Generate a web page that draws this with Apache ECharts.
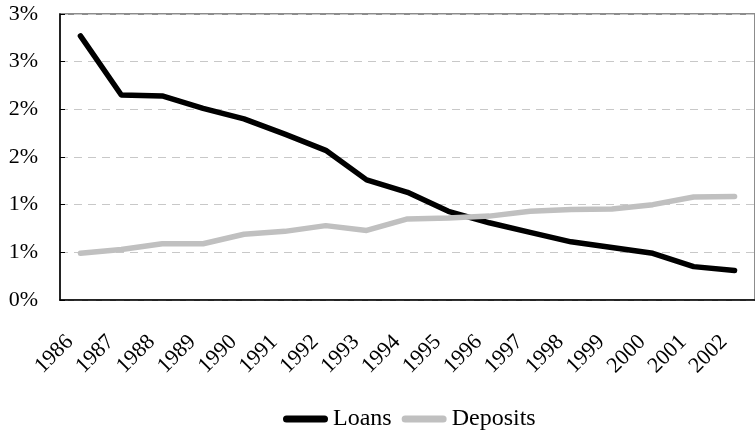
<!DOCTYPE html>
<html>
<head>
<meta charset="utf-8">
<script src="https://cdn.jsdelivr.net/npm/echarts@6/dist/echarts.min.js"></script>
<style>html,body{margin:0;padding:0;background:#fff}#c{width:755px;height:441px}</style>
</head>
<body>
<div id="c"></div>
<script>
const years = ['1986','1987','1988','1989','1990','1991','1992','1993','1994','1995','1996','1997','1998','1999','2000','2001','2002'];
const loans = [2.77,2.15,2.14,2.01,1.90,1.74,1.57,1.26,1.13,0.93,0.81,0.71,0.61,0.55,0.49,0.35,0.31];
const deposits = [0.49,0.53,0.59,0.59,0.69,0.72,0.78,0.73,0.85,0.86,0.88,0.93,0.95,0.955,1.00,1.08,1.085];
const yTicks = {min:0, max:3, interval:0.5};

const chart = echarts.init(document.getElementById('c'));
const font = 'Liberation Serif';
const pill = 'path://M3.5,0 L41.5,0 A3.5,3.5 0 0 1 41.5,7 L3.5,7 A3.5,3.5 0 0 1 3.5,0 Z';
chart.setOption({
  animation:false,
  grid:{left:60, top:14, right:-8, bottom:141, show:true, borderColor:'#8c8c8c', borderWidth:2, backgroundColor:'transparent'},
  legend:{
    top:407, left:283, itemWidth:45, itemHeight:7, itemGap:10, padding:0,
    textStyle:{fontFamily:font, fontSize:24, color:'#000'},
    data:[{name:'Loans', icon:pill},{name:'Deposits', icon:pill}]
  },
  xAxis:{
    type:'category', data:years, boundaryGap:true,
    axisLine:{lineStyle:{color:'#000', width:1.5}},
    axisTick:{inside:true, length:7, lineStyle:{color:'#000'}},
    axisLabel:{rotate:45, margin:28, padding:[0,15,0,0], fontFamily:font, fontSize:22, color:'#000', interval:0}
  },
  yAxis:{
    type:'value', min:yTicks.min, max:yTicks.max, interval:yTicks.interval,
    axisLine:{show:true, lineStyle:{color:'#000', width:1.5}},
    axisTick:{show:true, inside:true, length:5, lineStyle:{color:'#000'}},
    axisLabel:{margin:22, fontFamily:font, fontSize:22, color:'#000', formatter:v=>Math.round(v)+'%'},
    splitLine:{show:true, lineStyle:{color:'#c8c8c8', type:[8,6], width:1}}
  },
  series:[
    {name:'Loans', type:'line', data:loans, symbol:'none', lineStyle:{color:'#000', width:5.5, cap:'round', join:'round'}, itemStyle:{color:'#000'}},
    {name:'Deposits', type:'line', data:deposits, symbol:'none', lineStyle:{color:'#c0c0c0', width:5.5, cap:'round', join:'round'}, itemStyle:{color:'#c0c0c0'}}
  ]
});
</script>
</body>
</html>
